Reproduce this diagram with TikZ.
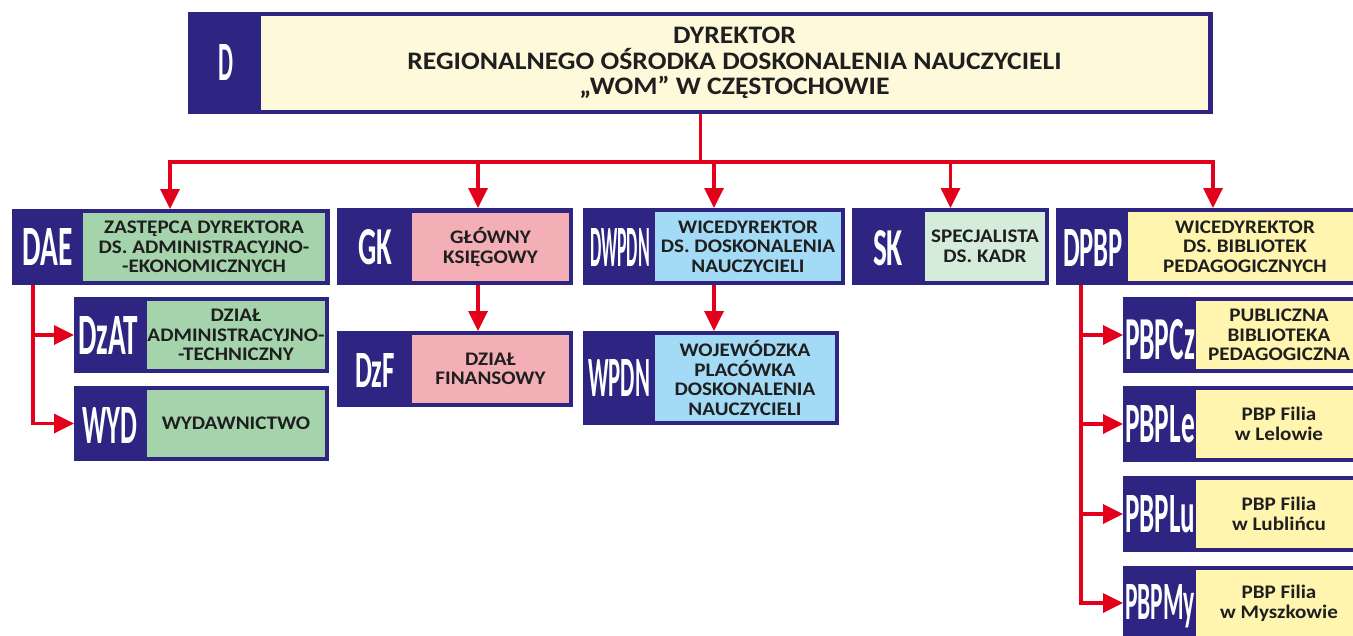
\documentclass[tikz,border=0pt]{standalone}
\usepackage{fontspec}
\usepackage{graphicx}
\usetikzlibrary{arrows.meta}
\newfontfamily\txtfont[FakeStretch=1.1]{Carlito}
\newfontfamily\abfont{Carlito}
\definecolor{navy}{RGB}{46,36,130}
\definecolor{cred}{RGB}{226,0,26}
\definecolor{ctop}{RGB}{255,249,219}
\definecolor{cgreen}{RGB}{165,212,172}
\definecolor{cpink}{RGB}{244,174,181}
\definecolor{cblue}{RGB}{163,218,245}
\definecolor{cpale}{RGB}{214,236,218}
\definecolor{cyel}{RGB}{255,245,175}
\tikzset{
  obox/.style={fill=navy, draw=none, anchor=north west, inner sep=0pt, outer sep=0pt},
  lbox/.style={draw=none, anchor=north west, inner sep=0pt, outer sep=0pt, align=center,
    text=black!88, font=\txtfont\bfseries\fontsize{19.2}{19.6}\selectfont},
  tbox/.style={lbox, font=\txtfont\bfseries\fontsize{25.2}{25.6}\selectfont},
  abx/.style={inner sep=0pt, text=white, font=\abfont\bfseries},
  rline/.style={draw=cred, line width=3.5pt},
  arr/.style={rline, -{Triangle[width=19pt,length=20pt]}}
}
\begin{document}
\begin{tikzpicture}[x=1pt,y=-1pt]
\useasboundingbox (0,0) rectangle (1353,635);
\fill[white] (0,0) rectangle (1353,635);
% top box
\node[obox, minimum width=1025pt, minimum height=102pt] (D) at (188,12) {};
\node[tbox, fill=ctop, minimum width=947pt, minimum height=94pt] (Dt) at (261,16)
  {DYREKTOR\\REGIONALNEGO OŚRODKA DOSKONALENIA NAUCZYCIELI\\„WOM” W CZĘSTOCHOWIE};
\node[abx] (Da) at (225.5,62) {\resizebox{15pt}{36pt}{D}};
% DAE
\node[obox, minimum width=318pt, minimum height=76pt] (DAE) at (12,209) {};
\node[lbox, fill=cgreen, minimum width=242pt, minimum height=68pt] (DAEt) at (83,213)
  {ZASTĘPCA DYREKTORA\\DS. ADMINISTRACYJNO-\\-EKONOMICZNYCH};
\node[abx] (DAEa) at (47.5,247) {\resizebox{50pt}{37pt}{DAE}};
% DzAT
\node[obox, minimum width=255pt, minimum height=76pt] (DzAT) at (74,297) {};
\node[lbox, fill=cgreen, minimum width=178pt, minimum height=68pt] (DzATt) at (147,301)
  {DZIAŁ\\ADMINISTRACYJNO-\\-TECHNICZNY};
\node[abx] (DzATa) at (108,335) {\resizebox{60pt}{38pt}{DzAT}};
% WYD
\node[obox, minimum width=255pt, minimum height=75pt] (WYD) at (74,386) {};
\node[lbox, fill=cgreen, minimum width=178pt, minimum height=67pt] (WYDt) at (147,390)
  {WYDAWNICTWO};
\node[abx] (WYDa) at (110,425) {\resizebox{55pt}{36pt}{WYD}};
% GK
\node[obox, minimum width=236pt, minimum height=77pt] (GK) at (337,208) {};
\node[lbox, fill=cpink, minimum width=157pt, minimum height=68pt] (GKt) at (412,213)
  {GŁÓWNY\\KSIĘGOWY};
\node[abx] (GKa) at (375,247) {\resizebox{34pt}{35pt}{GK}};
% DzF
\node[obox, minimum width=236pt, minimum height=76pt] (DzF) at (337,331) {};
\node[lbox, fill=cpink, minimum width=157pt, minimum height=68pt] (DzFt) at (412,335)
  {DZIAŁ\\FINANSOWY};
\node[abx] (DzFa) at (375,370) {\resizebox{40pt}{34pt}{DzF}};
% DWPDN
\node[obox, minimum width=262pt, minimum height=77pt] (DWPDN) at (583,208) {};
\node[lbox, fill=cblue, minimum width=186pt, minimum height=69pt] (DWPDNt) at (655,212)
  {WICEDYREKTOR\\DS. DOSKONALENIA\\NAUCZYCIELI};
\node[abx] (DWPDNa) at (620,247) {\resizebox{60pt}{38pt}{DWPDN}};
% WPDN
\node[obox, minimum width=256pt, minimum height=94pt] (WPDN) at (583,331) {};
\node[lbox, fill=cblue, minimum width=180pt, minimum height=86pt] (WPDNt) at (655,335)
  {WOJEWÓDZKA\\PLACÓWKA\\DOSKONALENIA\\NAUCZYCIELI};
\node[abx] (WPDNa) at (619,378) {\resizebox{62pt}{37pt}{WPDN}};
% SK
\node[obox, minimum width=197pt, minimum height=77pt] (SK) at (852,208) {};
\node[lbox, fill=cpale, minimum width=120pt, minimum height=69pt] (SKt) at (925,212)
  {SPECJALISTA\\DS. KADR};
\node[abx] (SKa) at (888,248) {\resizebox{30pt}{35pt}{SK}};
% DPBP
\node[obox, minimum width=310pt, minimum height=77pt] (DPBP) at (1056,208) {};
\node[lbox, fill=cyel, minimum width=234pt, minimum height=69pt] (DPBPt) at (1128,212)
  {WICEDYREKTOR\\DS. BIBLIOTEK\\PEDAGOGICZNYCH};
\node[abx] (DPBPa) at (1093,248) {\resizebox{60pt}{37pt}{DPBP}};
% PBPCz
\node[obox, minimum width=243pt, minimum height=76pt] (PBPCz) at (1123,297) {};
\node[lbox, fill=cyel, minimum width=166pt, minimum height=68pt] (PBPCzt) at (1196,301)
  {PUBLICZNA\\BIBLIOTEKA\\PEDAGOGICZNA};
\node[abx] (PBPCza) at (1160,340) {\resizebox{70pt}{40pt}{PBPCz}};
% PBPLe
\node[obox, minimum width=243pt, minimum height=76pt] (PBPLe) at (1123,386) {};
\node[lbox, fill=cyel, minimum width=166pt, minimum height=68pt] (PBPLet) at (1196,390)
  {PBP Filia\\w Lelowie};
\node[abx] (PBPLea) at (1160,424) {\resizebox{70pt}{37pt}{PBPLe}};
% PBPLu
\node[obox, minimum width=243pt, minimum height=76pt] (PBPLu) at (1123,476) {};
\node[lbox, fill=cyel, minimum width=166pt, minimum height=68pt] (PBPLut) at (1196,480)
  {PBP Filia\\w Lublińcu};
\node[abx] (PBPLua) at (1160,514) {\resizebox{70pt}{37pt}{PBPLu}};
% PBPMy
\node[obox, minimum width=243pt, minimum height=74pt] (PBPMy) at (1123,566) {};
\node[lbox, fill=cyel, minimum width=166pt, minimum height=66pt] (PBPMyt) at (1196,570)
  {PBP Filia\\w Myszkowie};
\node[abx] (PBPMya) at (1160,606) {\resizebox{70pt}{35pt}{PBPMy}};
% connectors
\coordinate (busL) at (170,162);
\coordinate (busR) at (1213,162);
\coordinate (gkT) at (478,285);
\coordinate (daeT) at (33,285);
\coordinate (dpbpT) at (1081,285);
\draw[rline, line cap=rect] (busL) -- (busR);
\draw[rline] (D.south) -- (D.south |- busL);
\draw[arr] (busL) -- (busL |- DAE.north);
\draw[arr] (gkT |- busL) -- (gkT |- GK.north);
\draw[arr] (DWPDN.north |- busL) -- (DWPDN.north);
\draw[arr] (SK.north |- busL) -- (SK.north);
\draw[arr] (busR) -- (busR |- DPBP.north);
\draw[arr] (gkT) -- (gkT |- DzF.north);
\draw[arr] (DWPDN.south) -- (DWPDN.south |- WPDN.north);
\draw[arr] (daeT) |- (WYD.west);
\draw[arr] (daeT |- DzAT.west) -- (DzAT.west);
\draw[arr] (dpbpT) |- (PBPMy.west);
\draw[arr] (dpbpT |- PBPCz.west) -- (PBPCz.west);
\draw[arr] (dpbpT |- PBPLe.west) -- (PBPLe.west);
\draw[arr] (dpbpT |- PBPLu.west) -- (PBPLu.west);
\end{tikzpicture}
\end{document}
